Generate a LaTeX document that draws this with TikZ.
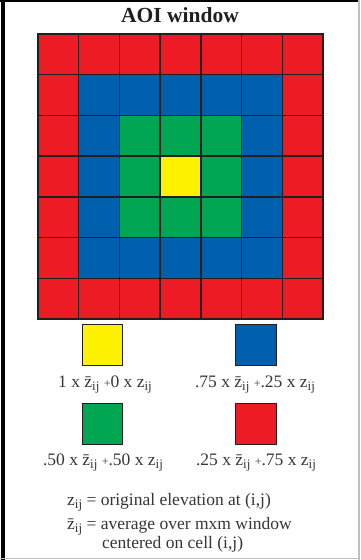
\documentclass[tikz,border=0pt]{standalone}
\usepackage{fontspec}
\setmainfont{Liberation Serif}
\usetikzlibrary{positioning}

\definecolor{aoired}{HTML}{ED1C24}
\definecolor{aoiblue}{HTML}{0060AE}
\definecolor{aoigreen}{HTML}{00A651}
\definecolor{aoiyellow}{HTML}{FFF200}
\definecolor{aoiline}{HTML}{231F20}

\newcommand{\sbij}{\raisebox{-3.5pt}{\fontsize{13}{13}\selectfont ij}}
\newcommand{\zij}{z\sbij}
\newcommand{\zbar}{\={z}\sbij}
\newcommand{\pl}{{\fontsize{12}{12}\selectfont+}}

\begin{document}
\begin{tikzpicture}[x=1pt, y=-1pt,
  cellbox/.style={draw=aoiline, line width=1.4pt},
  legbox/.style={draw=aoiline, line width=1.4pt, minimum size=40.5pt, inner sep=0pt},
  legtext/.style={font=\fontsize{17.5}{20}\selectfont, text=aoiline!90, inner sep=0pt, anchor=base}]
\useasboundingbox (0,0) rectangle (360,560);
% Frame
\draw[line width=3.5pt] (3,0) -- (3,560);
\draw[line width=2.5pt] (0,1.2) -- (360,1.2);
\draw[black!25, line width=1.5pt] (358.8,0) -- (358.8,560);
\draw[black!25, line width=1.5pt] (0,558.5) -- (360,558.5);

% Title
\node[font=\fontsize{21.5}{24}\selectfont\bfseries, text=aoiline, anchor=base] (title) at (180,22.5) {AOI window};

% AOI grid, colour by ring distance from the centre cell
\foreach \i in {0,...,6}{
  \foreach \j in {0,...,6}{
    \pgfmathtruncatemacro\ring{max(abs(\i-3),abs(\j-3))}
    \ifcase\ring \def\cellcol{aoiyellow}\or \def\cellcol{aoigreen}\or \def\cellcol{aoiblue}\else \def\cellcol{aoired}\fi
    \draw[cellbox, fill=\cellcol] ({38+\i*40.7},{34+\j*40.7}) rectangle ++(40.7,40.7);
  }
}

% Legend squares
\node[legbox, fill=aoiyellow] (yelbox) at (102.5,345) {};
\node[legbox, fill=aoiblue] (bluebox) at (256,345) {};
\node[legbox, fill=aoigreen] (greenbox) at (102.5,424) {};
\node[legbox, fill=aoired] (redbox) at (256,424) {};

% Legend labels
\node[legtext] (yeltxt) at (105,387) {1 x \zbar\ \pl0 x \zij};
\node[legtext] (bluetxt) at (255,387) {.75 x \zbar\ \pl.25 x \zij};
\node[legtext] (greentxt) at (103,465) {.50 x \zbar\ \pl.50 x \zij};
\node[legtext] (redtxt) at (256,465) {.25 x \zbar\ \pl.75 x \zij};

% Definitions
\node[legtext, anchor=base west] (defz) at (67,505) {\zij\ = original elevation at (i,j)};
\node[legtext, anchor=base west] (defzbar) at (67,529) {\zbar\ = average over mxm window};
\node[legtext, anchor=base west] (defcell) at (102,548) {centered on cell (i,j)};
\end{tikzpicture}
\end{document}
